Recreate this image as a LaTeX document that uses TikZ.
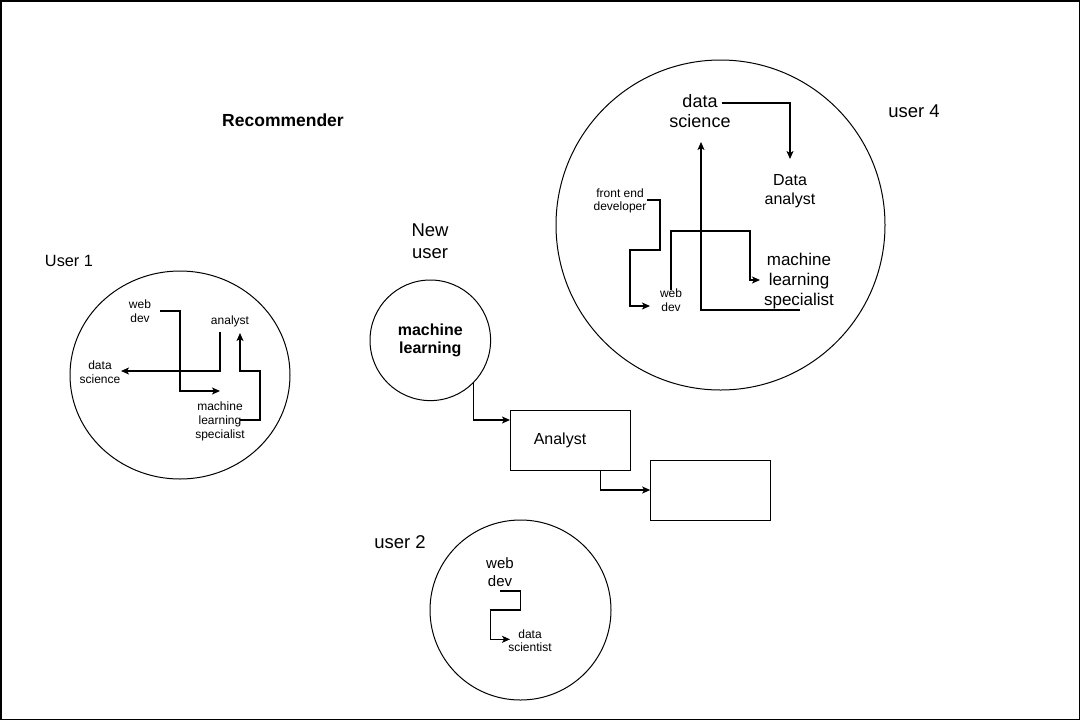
\documentclass[tikz,border=0pt]{standalone}
\usepackage{fontspec}
\setmainfont{Liberation Sans}
\usetikzlibrary{arrows.meta,shapes.geometric}
\begin{document}
\begin{tikzpicture}[x=1pt,y=-1pt,
  lbl/.style={inner sep=0pt, align=center},
  fsmall/.style={font=\fontsize{12}{14}\selectfont},
  fmid/.style={font=\fontsize{15}{18.3}\selectfont},
  fsixteen/.style={font=\fontsize{16}{19}\selectfont},
  fbig/.style={font=\fontsize{18.5}{21.7}\selectfont},
  ring/.style={draw, ellipse, line width=1pt, inner sep=0pt},
  box/.style={draw, rectangle, line width=1pt, inner sep=0pt, minimum width=120, minimum height=60},
  conn/.style={draw, line width=1.3pt, -{Stealth[length=8pt,width=7pt,inset=2pt]}},
]
\useasboundingbox (0,0) rectangle (1081,721);
\draw[line width=1.5pt] (0.75,0.75) rectangle (1079.5,719.5);

% title
\node[lbl, font=\fontsize{17.5}{21}\selectfont\bfseries] (rec) at (283,120) {Recommender};

% ---------- User 1 ----------
\node[ring, minimum width=220, minimum height=208] (c1) at (180,375) {};
\node[lbl, font=\fontsize{16.3}{19}\selectfont] (u1lbl) at (69,261) {User 1};
\node[lbl, fsmall] (u1wd) at (140,311) {web\\dev};
\node[lbl, fsmall] (u1an) at (230,321) {analyst};
\node[lbl, fsmall] (u1ds) at (100,372) {data\\science};
\node[lbl, fsmall] (u1ml) at (220,421) {machine\\learning\\specialist};
\coordinate (u1wdO) at (160,311);
\coordinate (u1mlI) at (220,391);
\coordinate (u1anO) at (220,332);
\coordinate (u1dsI) at (121,371);
\coordinate (u1mlO) at (240,420);
\coordinate (u1anI) at (240,333);
\draw[conn] (u1wdO) -- (180,311) -- (180,391) -- (u1mlI);
\draw[conn] (u1anO) -- (220,371) -- (u1dsI);
\draw[conn] (u1mlO) -- (260,420) -- (260,371) -- (240,371) -- (u1anI);

% ---------- User 4 ----------
\node[ring, minimum width=329, minimum height=330] (c4) at (720.5,225) {};
\node[lbl, fbig] (u4lbl) at (914,111) {user 4};
\node[lbl, font=\fontsize{18}{20.3}\selectfont] (u4ds) at (700,111) {data\\science};
\node[lbl, fsixteen] (u4da) at (790,191) {Data\\analyst};
\node[lbl, font=\fontsize{12}{13}\selectfont] (u4fe) at (620,201) {front end\\developer};
\node[lbl, fsmall] (u4wd) at (671,300) {web\\dev};
\node[lbl, font=\fontsize{17}{19.7}\selectfont] (u4ml) at (799,281) {machine\\learning\\specialist};
\coordinate (u4dsO) at (722,103);
\coordinate (u4daI) at (790,159);
\coordinate (u4mlO) at (800,310);
\coordinate (u4dsI) at (701,142);
\coordinate (u4feO) at (647,200);
\coordinate (u4wdI) at (650,306);
\coordinate (u4wdO) at (671,290);
\coordinate (u4mlI) at (760,280);
\draw[conn] (u4dsO) -- (790,103) -- (u4daI);
\draw[conn] (u4mlO) -- (701,310) -- (u4dsI);
\draw[conn] (u4feO) -- (660,200) -- (660,250) -- (630,250) -- (630,306) -- (u4wdI);
\draw[conn] (u4wdO) -- (671,231) -- (750,231) -- (750,280) -- (u4mlI);

% ---------- New user ----------
\node[lbl, fbig] (nulbl) at (430,241) {New\\user};
\node[ring, minimum width=120.6, minimum height=120.6, font=\fontsize{16}{18.3}\selectfont\bfseries, align=center] (nml) at (430.3,340.3) {machine\\learning};
\node[box] (anbox) at (570.3,440) {};
\node[lbl, fsixteen] (antxt) at (560,440) {Analyst};
\node[box] (empty) at (710.7,490) {};
\coordinate (anI) at (510,420);
\coordinate (anO) at (600.7,470);
\draw[conn] (nml.south east) -- (nml.south east |- anI) -- (anI);
\draw[conn] (anO) -- (600.7,490) -- (empty.west);

% ---------- User 2 ----------
\node[ring, minimum width=181, minimum height=180] (c2) at (520.5,610) {};
\node[lbl, fbig] (u2lbl) at (400,542) {user 2};
\node[lbl, fmid] (u2wd) at (500,572) {web\\dev};
\node[lbl, font=\fontsize{12}{13.3}\selectfont] (u2ds) at (530,641) {data\\scientist};
\coordinate (u2wdO) at (500,591);
\coordinate (u2dsI) at (510,639.3);
\draw[conn] (u2wdO) -- (520.7,591) -- (520.7,610) -- (490.7,610) -- (490.7,639.3) -- (u2dsI);
\end{tikzpicture}
\end{document}
